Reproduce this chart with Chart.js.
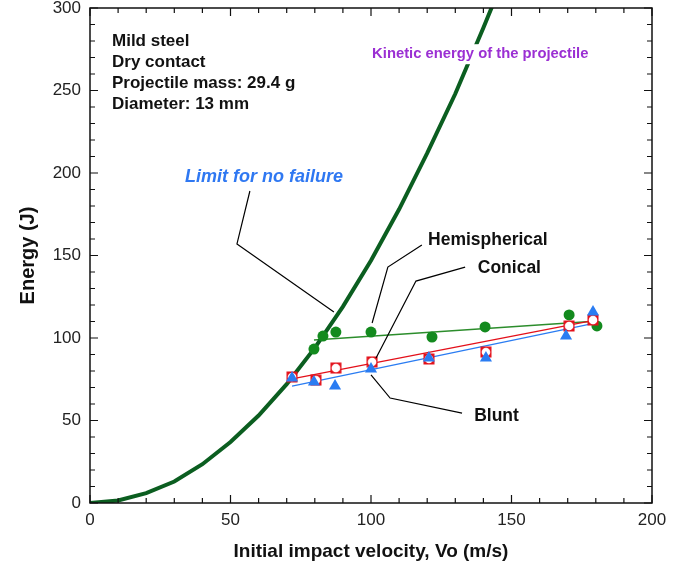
<!DOCTYPE html>
<html>
<head>
<meta charset="utf-8">
<script src="https://cdn.jsdelivr.net/npm/chart.js@4.4.0/dist/chart.umd.min.js"></script>
<style>
  html, body { margin: 0; padding: 0; background: #fff; }
  #wrap { width: 692px; height: 571px; }
</style>
</head>
<body>
<div id="wrap"><canvas id="chart"></canvas></div>
<script>
// kinetic energy of the projectile
const keVelocity = [0, 10, 20, 30, 40, 50, 60, 70, 80, 90, 100, 110, 120, 130, 140, 146];
const keEnergy   = [0, 1.5, 6, 13, 23.5, 37, 53, 72, 94, 119, 147, 178, 212, 248, 288, 313];

// measured points
const hemiVelocity = [79.7, 82.9, 87.5, 100, 121.7, 140.6, 170.5, 180.4];
const hemiEnergy   = [93.3, 101.2, 103.6, 103.6, 100.6, 106.7, 114, 107.3];
const conVelocity  = [71.9, 80.4, 87.5, 100.4, 120.6, 140.9, 170.5, 179];
const conEnergy    = [76.4, 74.5, 81.8, 85.5, 87.3, 91.5, 107.3, 110.9];
const bluVelocity  = [71.9, 79.7, 87.2, 100, 120.6, 140.9, 169.4, 179];
const bluEnergy    = [75.8, 73.3, 70.9, 81.2, 87.9, 87.9, 101.2, 115.8];

// fitted lines (end points)
const hemiFitVelocity = [79.7, 180.8];
const hemiFitEnergy   = [98.8, 110.3];
const conFitVelocity  = [71.9, 179.7];
const conFitEnergy    = [75.2, 110.9];
const bluFitVelocity  = [71.9, 179.7];
const bluFitEnergy    = [70.9, 109];

const xTicks = [0, 50, 100, 150, 200];
const yTicks = [0, 50, 100, 150, 200, 250, 300];

const FONT = '"Liberation Sans", Arial, Helvetica, sans-serif';

function pts(xs, ys) {
  return xs.map((x, i) => ({ x, y: ys[i] }));
}

// red square with a white hole for the conical points
function conicalMarker() {
  const c = document.createElement("canvas");
  c.width = 12; c.height = 12;
  const g = c.getContext("2d");
  g.fillStyle = "#e3101a";
  g.fillRect(0.5, 0.5, 11, 11);
  g.fillStyle = "#fff";
  g.beginPath();
  g.arc(6, 6, 4.3, 0, Math.PI * 2);
  g.fill();
  return c;
}

const notes = [
  { text: "Kinetic energy of the projectile", x: 100.4, y: 272, color: "#9b2fd3", font: "bold 14.8px " + FONT, box: true },
  { text: "Limit for no failure", x: 33.8, y: 197.6, color: "#2f78f2", font: "italic bold 18px " + FONT },
  { text: "Hemispherical", x: 120.3, y: 159.4, color: "#111", font: "bold 17.5px " + FONT },
  { text: "Conical", x: 138, y: 142.4, color: "#111", font: "bold 17.5px " + FONT },
  { text: "Blunt", x: 136.7, y: 52.7, color: "#111", font: "bold 17.5px " + FONT },
];

const leaders = [
  [[56.9, 189.1], [52.3, 157], [86.8, 115.8]],
  [[118.1, 156.4], [106, 143], [100.4, 109.1]],
  [[133.5, 143], [116, 134.5], [101.8, 87.9]],
  [[100, 77.6], [106.8, 63.6], [132.4, 54.5]],
];

const infoLines = ["Mild steel", "Dry contact", "Projectile mass: 29.4 g", "Diameter: 13 mm"];

const decorPlugin = {
  id: "decor",
  afterDatasetsDraw(chart) {
    const { ctx, chartArea: a, scales: { x, y } } = chart;
    ctx.save();

    // frame
    ctx.strokeStyle = "#111";
    ctx.lineWidth = 1.5;
    ctx.strokeRect(a.left, a.top, a.right - a.left, a.bottom - a.top);

    // inward ticks on all four sides
    ctx.lineWidth = 1.2;
    ctx.beginPath();
    for (let v = 0; v <= 200; v += 10) {
      const px = x.getPixelForValue(v);
      const len = v % 50 === 0 ? 8 : 5;
      ctx.moveTo(px, a.bottom); ctx.lineTo(px, a.bottom - len);
      ctx.moveTo(px, a.top); ctx.lineTo(px, a.top + len);
    }
    for (let v = 0; v <= 300; v += 10) {
      const py = y.getPixelForValue(v);
      const len = v % 50 === 0 ? 8 : 5;
      ctx.moveTo(a.left, py); ctx.lineTo(a.left + len, py);
      ctx.moveTo(a.right, py); ctx.lineTo(a.right - len, py);
    }
    ctx.stroke();

    // leader lines
    ctx.lineWidth = 1.2;
    ctx.strokeStyle = "#000";
    leaders.forEach((line) => {
      ctx.beginPath();
      line.forEach(([vx, vy], i) => {
        const px = x.getPixelForValue(vx), py = y.getPixelForValue(vy);
        if (i === 0) ctx.moveTo(px, py); else ctx.lineTo(px, py);
      });
      ctx.stroke();
    });

    // labels
    ctx.textBaseline = "middle";
    ctx.textAlign = "left";
    notes.forEach((n) => {
      ctx.font = n.font;
      const px = x.getPixelForValue(n.x), py = y.getPixelForValue(n.y);
      if (n.box) {
        const w = ctx.measureText(n.text).width;
        ctx.fillStyle = "#fff";
        ctx.fillRect(px - 2, py - 10, w + 4, 20);
      }
      ctx.fillStyle = n.color;
      ctx.fillText(n.text, px, py);
    });

    ctx.font = "bold 17px " + FONT;
    ctx.fillStyle = "#111";
    infoLines.forEach((t, i) => {
      ctx.fillText(t, a.left + 22, a.top + 33 + i * 21);
    });

    ctx.restore();
  },
};

const lineDs = (label, xs, ys, color, width, order) => ({
  label, data: pts(xs, ys), type: "line", showLine: true,
  borderColor: color, borderWidth: width, pointRadius: 0, fill: false, order,
});

new Chart(document.getElementById("chart"), {
  type: "scatter",
  data: {
    datasets: [
      { label: "Blunt", data: pts(bluVelocity, bluEnergy), pointStyle: "triangle", pointRadius: 7,
        backgroundColor: "#2a7cf2", borderColor: "#2a7cf2", borderWidth: 0, order: 1 },
      { label: "Conical", data: pts(conVelocity, conEnergy), pointStyle: conicalMarker(),
        order: 2 },
      { label: "Hemispherical", data: pts(hemiVelocity, hemiEnergy), pointStyle: "circle", pointRadius: 5.5,
        backgroundColor: "#138a1e", borderColor: "#138a1e", borderWidth: 0, order: 3 },
      lineDs("Kinetic energy", keVelocity, keEnergy, "#0b5e20", 4, 4),
      lineDs("Blunt fit", bluFitVelocity, bluFitEnergy, "#2a7cf2", 1.3, 5),
      lineDs("Conical fit", conFitVelocity, conFitEnergy, "#e3101a", 1.3, 6),
      lineDs("Hemispherical fit", hemiFitVelocity, hemiFitEnergy, "#2c8d2c", 1.3, 7),
    ],
  },
  options: {
    responsive: true,
    maintainAspectRatio: false,
    animation: false,
    layout: { padding: { top: 8, right: 40, left: 0, bottom: 0 } },
    plugins: { legend: { display: false }, tooltip: { enabled: false } },
    scales: {
      x: {
        type: "linear", min: 0, max: 200,
        afterBuildTicks: (s) => { s.ticks = xTicks.map((v) => ({ value: v })); },
        afterFit: (s) => { s.height = 68; },
        grid: { display: false, drawTicks: false },
        border: { display: false },
        ticks: { padding: 9, color: "#222", font: { family: FONT, size: 17, lineHeight: 1 }, maxRotation: 0 },
        title: { display: true, text: "Initial impact velocity, Vo (m/s)", color: "#111",
          font: { family: FONT, size: 19, weight: "bold" }, padding: { top: 0, bottom: 8 } },
      },
      y: {
        type: "linear", min: 0, max: 300,
        afterBuildTicks: (s) => { s.ticks = yTicks.map((v) => ({ value: v })); },
        afterFit: (s) => { s.width = 90; s.paddingTop = 0; s.paddingBottom = 0; },
        grid: { display: false, drawTicks: false },
        border: { display: false },
        ticks: { padding: 9, color: "#222", font: { family: FONT, size: 17, lineHeight: 1 } },
        title: { display: true, text: "Energy (J)", color: "#111",
          font: { family: FONT, size: 20, weight: "bold" }, padding: { top: 16, bottom: 0 } },
      },
    },
  },
  plugins: [decorPlugin],
});
</script>
</body>
</html>
